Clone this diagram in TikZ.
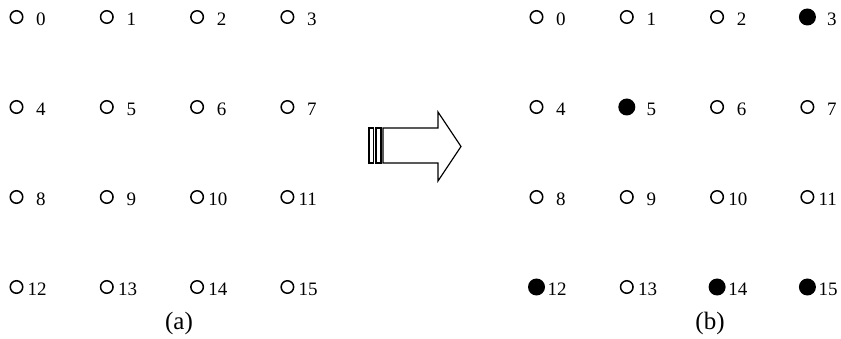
\documentclass[tikz,border=0pt]{standalone}
\usepackage{fontspec}
\setmainfont{Liberation Serif}
\usetikzlibrary{positioning}

\tikzset{
  site/.style={circle, draw, line width=1.5pt, minimum size=12.5pt, inner sep=0pt},
  num/.style={anchor=west, inner sep=0pt, yshift=-2.5pt, font=\fontsize{19}{22}\selectfont},
  subcap/.style={inner sep=0pt, font=\fontsize{25}{28}\selectfont},
}

\begin{document}
\begin{tikzpicture}[x=1pt, y=-1pt]
        \useasboundingbox (0,0) rectangle (841,339);
        % grid before
        \foreach \i in {0,...,15} {
          \pgfmathtruncatemacro{\c}{mod(\i,4)}
          \pgfmathtruncatemacro{\r}{div(\i,4)}
          \pgfmathsetmacro{\gap}{\i<10 ? 12.5 : 4}
          \node[site] (a\i) at (16.5+90.3*\c, 17+90*\r) {};
          \node[num, right=\gap pt of a\i] (la\i) {\i};
        }
        \node[subcap] (capa) at (179,323) {(a)};
        % the arrow
        \draw[line width=1.2pt] (369,128) rectangle (373.5,163);
        \draw[line width=1.2pt] (376,128) rectangle (381,163);
        \draw[line width=1.2pt, line join=miter] (383,128) -- (438,128) -- (438,112) -- (461,146.5)
          -- (438,181) -- (438,163) -- (383,163) -- cycle;
        % grid after
        \foreach \i in {0,...,15} {
          \pgfmathtruncatemacro{\c}{mod(\i,4)}
          \pgfmathtruncatemacro{\r}{div(\i,4)}
          \pgfmathsetmacro{\gap}{\i<10 ? 12.5 : 4}
          \node[site] (b\i) at (536.5+90.3*\c, 17+90*\r) {};
          \node[num, right=\gap pt of b\i] (lb\i) {\i};
        }
        \foreach \i in {3,5,12,14,15}
          \fill (b\i) circle (8.5);
        \node[subcap] (capb) at (710,323) {(b)};
\end{tikzpicture}
\end{document}
